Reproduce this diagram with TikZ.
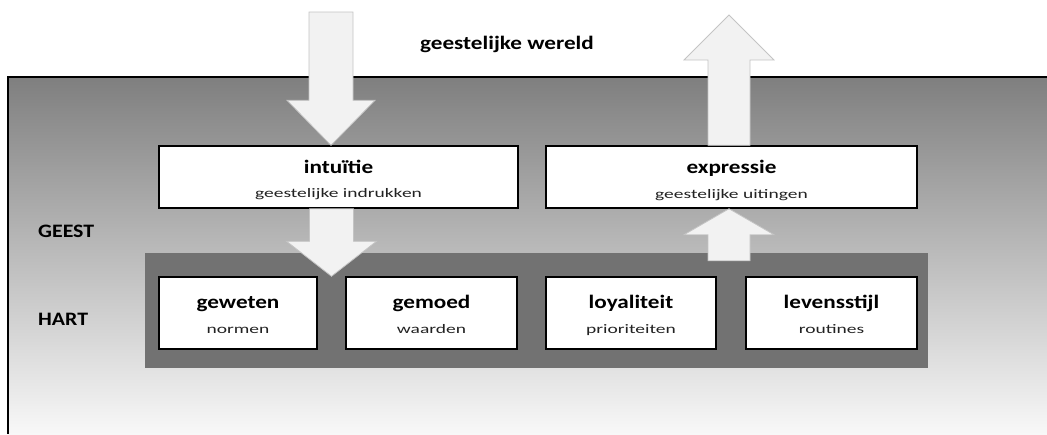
\documentclass[tikz,border=0pt]{standalone}
\usepackage{fontspec}
\setmainfont{Carlito}
\usetikzlibrary{calc}
\definecolor{arrowfill}{HTML}{F2F2F2}
\definecolor{arrowline}{HTML}{C4C4C4}
\definecolor{panelgray}{HTML}{727272}
\definecolor{bgtop}{HTML}{7F7F7F}
\definecolor{bgmid}{HTML}{C2C2C2}
\definecolor{bgbot}{HTML}{F8F8F8}
\definecolor{subtext}{HTML}{222222}
\newcommand\mytitle[1]{\scalebox{1.22}[1]{\fontsize{19}{22}\selectfont\bfseries #1}}
\newcommand\mysub[1]{\scalebox{1.5}[1]{\fontsize{13}{15}\selectfont #1}}
\newcommand\mylab[1]{\scalebox{1.15}[1]{\fontsize{19}{22}\selectfont\bfseries #1}}
\begin{document}
\begin{tikzpicture}[x=1pt,y=-1pt,
  box/.style={draw=black,line width=1.5pt,fill=white,rectangle,inner sep=0pt},
  panelbox/.style={fill=panelgray,rectangle,inner sep=0pt},
  blockarrow/.style={draw=arrowline,line width=0.8pt,fill=arrowfill,line join=miter},
  ttl/.style={anchor=base,inner sep=0pt,text=black},
  subt/.style={anchor=base,inner sep=0pt,text=subtext},
  lab/.style={anchor=base west,inner sep=0pt,text=black}]
\useasboundingbox (0,0) rectangle (1047,434);
% background
\shade[top color=bgtop, middle color=bgmid, bottom color=bgbot] (8,77) rectangle (1047,434);
\draw[line width=2pt] (8,434) -- (8,77) -- (1047,77);

% upper boxes
\node[box, minimum width=359pt, minimum height=62pt] (intu) at (338.5,177) {};
\node[box, minimum width=371pt, minimum height=62pt] (expr) at (731.5,177) {};

% dark panel
\node[panelbox, minimum width=783pt, minimum height=115pt] (hart) at (536.5,310.5) {};

% small boxes
\node[box, minimum width=158pt, minimum height=72pt] (gew) at (238,313) {};
\node[box, minimum width=171pt, minimum height=72pt] (gem) at (431.5,313) {};
\node[box, minimum width=170pt, minimum height=72pt] (loy) at (631,313) {};
\node[box, minimum width=171pt, minimum height=72pt] (lev) at (831.5,313) {};

% coordinates for arrows
\coordinate (inS) at (331,12);
\coordinate (inT) at (intu.north -| inS);
\coordinate (gap) at ($(gew.north east)!0.5!(gem.north west)$);
\coordinate (dnS) at (intu.south -| gap);
\coordinate (upT) at (729,15);
\coordinate (exB) at (expr.south -| upT);
\coordinate (exN) at (expr.north -| upT);
\coordinate (upS) at ($(hart.north -| upT)+(0,8)$);

% arrow: geestelijke wereld -> intuitie
\draw[blockarrow] ($(inS)+(-22,0)$) -- ($(inT)+(-22,-45)$) -- ($(inT)+(-44,-45)$) -- (inT)
  -- ($(inT)+(44,-45)$) -- ($(inT)+(22,-45)$) -- ($(inS)+(22,0)$) -- cycle;
% arrow: intuitie -> hart
\draw[blockarrow] ($(dnS)+(-22,0)$) -- ($(gap)+(-22,-35)$) -- ($(gap)+(-45,-35)$) -- (gap)
  -- ($(gap)+(45,-35)$) -- ($(gap)+(22,-35)$) -- ($(dnS)+(22,0)$) -- cycle;
% arrow: hart -> expressie
\draw[blockarrow] ($(upS)+(-21,0)$) -- ($(exB)+(-21,26)$) -- ($(exB)+(-45,26)$) -- (exB)
  -- ($(exB)+(45,26)$) -- ($(exB)+(21,26)$) -- ($(upS)+(21,0)$) -- cycle;
% arrow: expressie -> geestelijke wereld
\draw[blockarrow] ($(exN)+(-21,0)$) -- ($(upT)+(-21,45)$) -- ($(upT)+(-45,45)$) -- (upT)
  -- ($(upT)+(45,45)$) -- ($(upT)+(21,45)$) -- ($(exN)+(21,0)$) -- cycle;

% texts
\node[ttl] (world) at (507,49) {\mytitle{geestelijke wereld}};
\node[lab] (geest) at (38,237) {\mylab{GEEST}};
\node[lab] (hartlab) at (38,325) {\mylab{HART}};

\node[ttl] (intuT) at ($(intu.center)+(0,-4)$) {\mytitle{intuïtie}};
\node[subt] (intuS) at ($(intu.center)+(0,20)$) {\mysub{geestelijke indrukken}};
\node[ttl] (exprT) at ($(expr.center)+(0,-4)$) {\mytitle{expressie}};
\node[subt] (exprS) at ($(expr.center)+(0,21)$) {\mysub{geestelijke uitingen}};

\node[ttl] (gewT) at ($(gew.center)+(0,-5)$) {\mytitle{geweten}};
\node[subt] (gewS) at ($(gew.center)+(0,20)$) {\mysub{normen}};
\node[ttl] (gemT) at ($(gem.center)+(0,-5)$) {\mytitle{gemoed}};
\node[subt] (gemS) at ($(gem.center)+(0,20)$) {\mysub{waarden}};
\node[ttl] (loyT) at ($(loy.center)+(0,-5)$) {\mytitle{loyaliteit}};
\node[subt] (loyS) at ($(loy.center)+(0,20)$) {\mysub{prioriteiten}};
\node[ttl] (levT) at ($(lev.center)+(0,-5)$) {\mytitle{levensstijl}};
\node[subt] (levS) at ($(lev.center)+(0,20)$) {\mysub{routines}};
\end{tikzpicture}
\end{document}
